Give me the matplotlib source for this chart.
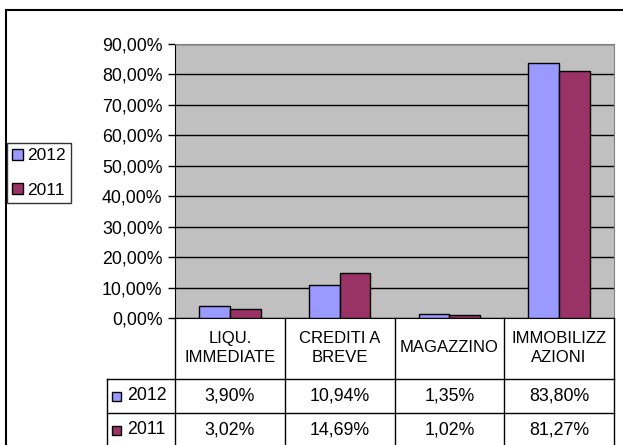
import matplotlib.pyplot as plt
from matplotlib.lines import Line2D
from matplotlib.patches import Patch
from matplotlib.ticker import FuncFormatter, MultipleLocator
from matplotlib.transforms import blended_transform_factory
import numpy as np

categories = ["LIQU.\nIMMEDIATE", "CREDITI A\nBREVE", "MAGAZZINO", "IMMOBILIZZ\nAZIONI"]
series_names = ["2012", "2011"]
values_2012 = [3.90, 10.94, 1.35, 83.80]
values_2011 = [3.02, 14.69, 1.02, 81.27]

BLUE = "#9999FF"
MAROON = "#993366"
W, H = 623, 445

plt.rcParams["font.family"] = ["Liberation Sans", "DejaVu Sans"]


def fx(x):
    return x / W


def fy(y):
    return 1 - y / H


def pct(v):
    return f"{v:.2f}%".replace(".", ",")


def main():
    fig = plt.figure(figsize=(W / 100, H / 100), dpi=100)
    ax = fig.add_axes([fx(175), fy(318), fx(614) - fx(175), fy(44) - fy(318)])
    ax.set_facecolor("#C0C0C0")

    x = np.arange(len(categories))
    bw = 0.28
    ax.bar(x - bw / 2, values_2012, bw, color=BLUE, edgecolor="black", linewidth=1.0, zorder=3)
    ax.bar(x + bw / 2, values_2011, bw, color=MAROON, edgecolor="black", linewidth=1.0, zorder=3)

    ax.set_xlim(-0.5, len(categories) - 0.5)
    ax.set_ylim(0, 90)
    ax.yaxis.set_major_locator(MultipleLocator(10))
    ax.yaxis.set_major_formatter(FuncFormatter(lambda v, p: pct(v)))
    ax.grid(axis="y", color="black", linewidth=1.0, zorder=1)
    ax.set_xticks([])
    ax.tick_params(axis="y", length=5, width=1, pad=4, labelsize=12.8)
    for s in ("top", "right"):
        ax.spines[s].set_color("#808080")
    ax.spines["left"].set_color("black")
    ax.spines["bottom"].set_color("black")

    # data table below the axis
    tr = blended_transform_factory(ax.transData, fig.transFigure)
    lw = 1.0
    bounds = np.arange(len(categories) + 1) - 0.5
    for b in bounds:
        fig.add_artist(Line2D([b, b], [fy(318), fy(450)], transform=tr, color="black", lw=lw))
    for yy in (379, 413):
        fig.add_artist(Line2D([fx(107), fx(614)], [fy(yy), fy(yy)], color="black", lw=lw))
    fig.add_artist(Line2D([fx(107), fx(107)], [fy(379), fy(450)], color="black", lw=lw))

    for i, cat in enumerate(categories):
        fig.text(i, fy(348), cat, transform=tr, ha="center", va="center",
                 fontsize=12, linespacing=1.35)
        fig.text(i, fy(396), pct(values_2012[i]), transform=tr, ha="center", va="center", fontsize=12.8)
        fig.text(i, fy(430), pct(values_2011[i]), transform=tr, ha="center", va="center", fontsize=12.8)

    for name, color, yy in ((series_names[0], BLUE, 396), (series_names[1], MAROON, 430)):
        fig.add_artist(plt.Rectangle((fx(112), fy(yy + 5)), fx(9), 9 / H, facecolor=color,
                                     edgecolor="black", lw=1.0))
        fig.text(fx(127), fy(yy), name, ha="left", va="center", fontsize=12.8)

    # legend
    handles = [Patch(facecolor=BLUE, edgecolor="black", lw=1.0),
               Patch(facecolor=MAROON, edgecolor="black", lw=1.0)]
    leg = fig.legend(handles, series_names, loc="center left", bbox_to_anchor=(fx(7), fy(173)),
                     fontsize=12.5, frameon=True, fancybox=False, edgecolor="black",
                     handlelength=0.6, handleheight=0.6, handletextpad=0.25,
                     borderpad=0.3, labelspacing=1.1, borderaxespad=0)
    leg.get_frame().set_linewidth(1.0)

    # outer chart border
    fig.add_artist(Line2D([fx(6), fx(6)], [fy(10), fy(450)], color="black", lw=1.5))
    fig.add_artist(Line2D([fx(6), fx(630)], [fy(10), fy(10)], color="black", lw=1.5))

    fig.savefig("out.png", dpi=100)


if __name__ == "__main__":
    main()
